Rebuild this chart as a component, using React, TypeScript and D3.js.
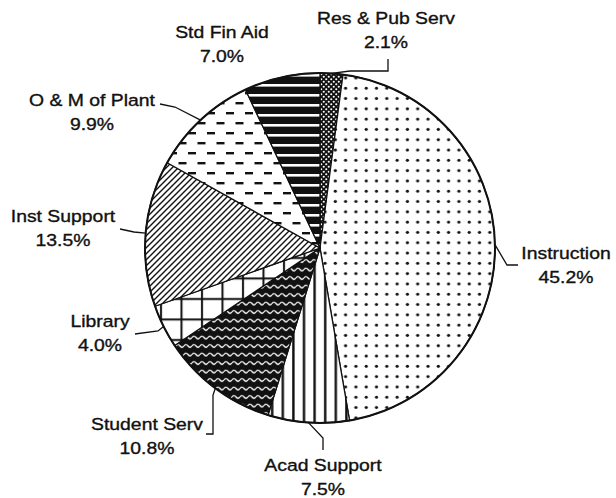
import React from "react";
import * as d3 from "d3";

// ---- data ----
const categories = [
  "Res & Pub Serv",
  "Instruction",
  "Acad Support",
  "Student Serv",
  "Library",
  "Inst Support",
  "O & M of Plant",
  "Std Fin Aid",
];
const shares = [2.1, 45.2, 7.5, 10.8, 4.0, 13.5, 9.9, 7.0];
const shareLabels = ["2.1%", "45.2%", "7.5%", "10.8%", "4.0%", "13.5%", "9.9%", "7.0%"];
const patternIds = ["p-res", "p-inst", "p-acad", "p-stud", "p-lib", "p-isup", "p-om", "p-sfa"];

// ---- layout (label anchors & leader routing) ----
const W = 616;
const H = 498;
const CX = 320;
const CY = 248;
const R = 175;
const FONT = 17;
const XSCALE = 1.14;
const labelPos: [number, number][] = [
  [386, 24],
  [566, 259],
  [323, 471],
  [147, 430],
  [100, 327],
  [63, 222],
  [92, 106],
  [222, 38],
];
const leaderPts: ([number, number][] | null)[] = [
  [[350, 71], [388, 71], [388, 59]],
  [[507, 265], [518, 265]],
  [[323, 438], [323, 450]],
  [[213, 395], [213, 434], [206, 434]],
  [[158, 331], [135, 334]],
  [[134, 232], [120, 229]],
  [[175, 107], [160, 104]],
  null,
];

export default function App() {
  const pie = d3
    .pie<number>()
    .sort(null)
    .value((d) => d)
    .startAngle(0)
    .endAngle(2 * Math.PI);
  const arcs = pie(shares);
  const arc = d3.arc<d3.PieArcDatum<number>>().innerRadius(0).outerRadius(R);

  const edge = (a: d3.PieArcDatum<number>): [number, number] => {
    const m = (a.startAngle + a.endAngle) / 2;
    return [CX + R * Math.sin(m), CY - R * Math.cos(m)];
  };
  const line = d3.line();

  return (
    <svg
      width={W}
      height={H}
      style={{ position: "absolute", left: 0, top: 0, background: "#fff" }}
      fontFamily="'Liberation Sans', Arial, sans-serif"
    >
      <defs>
        <pattern id="p-res" width={5} height={5} patternUnits="userSpaceOnUse">
          <rect width={5} height={5} fill="#111" />
          <circle cx={1.25} cy={1.25} r={1.05} fill="#fff" />
          <circle cx={3.75} cy={3.75} r={1.05} fill="#fff" />
        </pattern>
        <pattern id="p-inst" width={10.3} height={10.3} patternUnits="userSpaceOnUse">
          <rect width={10.3} height={10.3} fill="#fff" />
          <circle cx={5} cy={5} r={1.6} fill="#111" />
        </pattern>
        <pattern id="p-acad" width={10.6} height={10} patternUnits="userSpaceOnUse">
          <rect width={10.6} height={10} fill="#fff" />
          <rect x={4} width={2.4} height={10} fill="#111" />
        </pattern>
        <pattern id="p-stud" width={8} height={8.5} patternUnits="userSpaceOnUse">
          <rect width={8} height={8.5} fill="#111" />
          <path d="M0,4.5 Q2,1.8 4,4.5 T8,4.5" fill="none" stroke="#fff" strokeWidth={1.3} />
        </pattern>
        <pattern id="p-lib" width={20.5} height={20.5} patternUnits="userSpaceOnUse">
          <rect width={20.5} height={20.5} fill="#fff" />
          <rect x={4} width={2} height={20.5} fill="#111" />
          <rect y={9} width={20.5} height={2} fill="#111" />
        </pattern>
        <pattern id="p-isup" width={6} height={6} patternUnits="userSpaceOnUse">
          <rect width={6} height={6} fill="#fff" />
          <path d="M-1,7 L7,-1 M-1,1 L1,-1 M5,7 L7,5" stroke="#111" strokeWidth={1.4} />
        </pattern>
        <pattern id="p-om" width={19} height={20} patternUnits="userSpaceOnUse">
          <rect width={19} height={20} fill="#fff" />
          <rect x={1} y={4} width={8} height={2.4} fill="#111" />
          <rect x={10.5} y={14} width={8} height={2.4} fill="#111" />
        </pattern>
        <pattern id="p-sfa" width={10} height={10} patternUnits="userSpaceOnUse">
          <rect width={10} height={10} fill="#111" />
          <rect y={6} width={10} height={2.6} fill="#fff" />
        </pattern>
      </defs>

      <g transform={`translate(${CX},${CY})`}>
        {arcs.map((a, i) => (
          <path
            key={categories[i]}
            d={arc(a) || ""}
            fill={`url(#${patternIds[i]})`}
            stroke="#111"
            strokeWidth={1.3}
            strokeLinejoin="round"
          />
        ))}
        <circle r={R} fill="none" stroke="#111" strokeWidth={2} />
      </g>

      {arcs.map((a, i) => {
        const pts = leaderPts[i];
        if (!pts) return null;
        const all: [number, number][] = [edge(a), ...pts];
        return (
          <path
            key={"l" + i}
            d={line(all) || ""}
            fill="none"
            stroke="#111"
            strokeWidth={1.3}
          />
        );
      })}

      {categories.map((c, i) => {
        const [x, y] = labelPos[i];
        return (
          <g key={"t" + i} transform={`translate(${x},${y}) scale(${XSCALE},1)`}>
            <text textAnchor="middle" fontSize={FONT} fill="#111" stroke="#111" strokeWidth={0.35}>
              {c}
            </text>
            <text textAnchor="middle" y={24} fontSize={FONT} fill="#111" stroke="#111" strokeWidth={0.35}>
              {shareLabels[i]}
            </text>
          </g>
        );
      })}
    </svg>
  );
}
